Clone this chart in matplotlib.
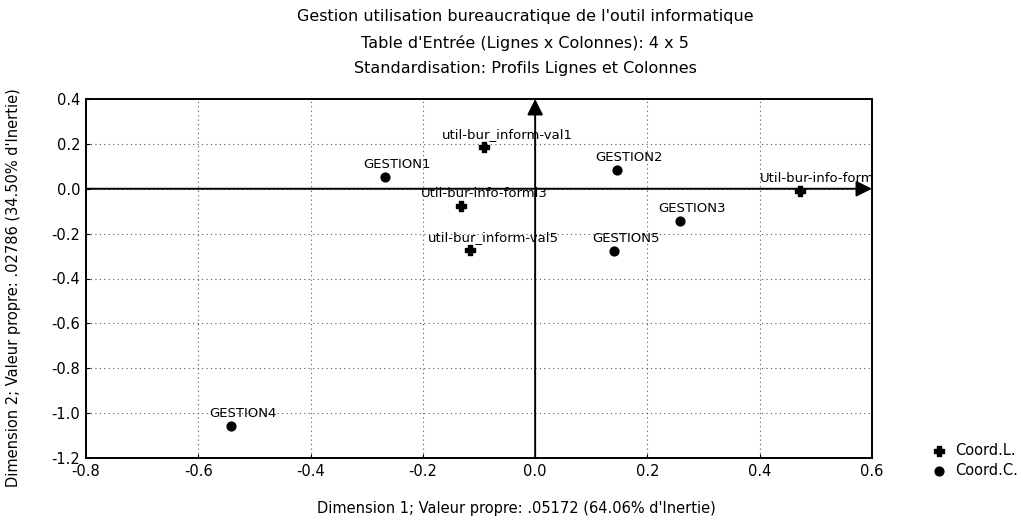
import matplotlib
matplotlib.use("Agg")
import matplotlib.pyplot as plt

plt.rcParams['font.family'] = ['DejaVu Sans']

# Row coordinates (Coord.L.)
row_labels = ["util-bur_inform-val1", "Util-bur-info-forml3",
              "util-bur_inform-val5", "Util-bur-info-forml1"]
row_x = [-0.091, -0.132, -0.116, 0.472]
row_y = [0.187, -0.076, -0.272, -0.009]

# Column coordinates (Coord.C.)
col_labels = ["GESTION1", "GESTION2", "GESTION3", "GESTION4", "GESTION5"]
col_x = [-0.267, 0.146, 0.258, -0.542, 0.141]
col_y = [0.053, 0.085, -0.143, -1.056, -0.276]

x_ticks = [-0.8, -0.6, -0.4, -0.2, 0.0, 0.2, 0.4, 0.6]
y_ticks = [0.4, 0.2, 0.0, -0.2, -0.4, -0.6, -0.8, -1.0, -1.2]

title_lines = ["Gestion utilisation bureaucratique de l'outil informatique",
               "Table d'Entrée (Lignes x Colonnes): 4 x 5",
               "Standardisation: Profils Lignes et Colonnes"]

W, H = 1023, 523
fig = plt.figure(figsize=(W / 100, H / 100), dpi=100)
ax = fig.add_axes([86 / W, 1 - 458 / H, (872 - 86) / W, (458 - 99) / H])

ax.set_xlim(-0.8, 0.6)
ax.set_ylim(-1.2, 0.4)
ax.set_xticks(x_ticks)
ax.set_yticks(y_ticks)
ax.set_xticklabels([f"{v:.1f}" for v in x_ticks])
ax.set_yticklabels([f"{v:.1f}" for v in y_ticks])
ax.tick_params(direction='in', length=3, labelsize=10.5)
ax.tick_params(axis='x', pad=4)
ax.tick_params(axis='y', pad=4)
for s in ax.spines.values():
    s.set_linewidth(1.4)

ax.grid(True, linestyle=(0, (1, 3)), color='#555555', linewidth=0.8)

# Axes through the origin, with arrow heads
ax.annotate("", xy=(0.6, 0.0), xytext=(-0.8, 0.0),
            arrowprops=dict(arrowstyle='-|>', color='black', lw=1.4,
                            mutation_scale=24, shrinkA=0, shrinkB=0))
ax.annotate("", xy=(0.0, 0.4), xytext=(0.0, -1.2),
            arrowprops=dict(arrowstyle='-|>', color='black', lw=1.4,
                            mutation_scale=24, shrinkA=0, shrinkB=0))

ax.scatter(row_x, row_y, marker='P', s=45, color='black', zorder=4,
           label='Coord.L.')
ax.scatter(col_x, col_y, marker='o', s=40, color='black', zorder=4,
           label='Coord.C.')

point_texts = []
for lab, x, y in zip(row_labels + col_labels, row_x + col_x, row_y + col_y):
    t = ax.annotate(lab, (x, y), xytext=(0, 9), textcoords='offset pixels',
                    fontsize=9.5, ha='left', va='baseline', clip_on=True)
    point_texts.append(t)

# Shift each label so that its point sits at about a third of its width
fig.canvas.draw()
renderer = fig.canvas.get_renderer()
for t in point_texts:
    w = t.get_window_extent(renderer).width
    t.xyann = (-0.32 * w, 9)

ax.set_xlabel("Dimension 1; Valeur propre: .05172 (64.06% d'Inertie)",
              fontsize=10.5)
ax.xaxis.set_label_coords(0.548, -0.12)
ax.set_ylabel("Dimension 2; Valeur propre: .02786 (34.50% d'Inertie)",
              fontsize=10.5)
ax.yaxis.set_label_coords(-0.083, 0.474)

for yy, line in zip([17, 43, 68], title_lines):
    fig.text(525 / W, 1 - yy / H, line, ha='center', va='center',
             fontsize=11.5)

fig.legend(loc='upper left', bbox_to_anchor=(932 / W, 1 - 443 / H),
           frameon=False, fontsize=10.5, borderpad=0, borderaxespad=0,
           handlelength=1.0, handletextpad=0.6, labelspacing=0.35)

fig.savefig("out.png", dpi=100)
